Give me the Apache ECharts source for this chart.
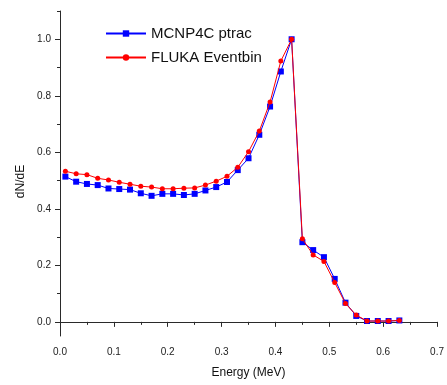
<!DOCTYPE html>
<html>
<head>
<meta charset="utf-8">
<script src="https://cdn.jsdelivr.net/npm/echarts@6/dist/echarts.min.js"></script>
<style>html,body{margin:0;padding:0;background:#fff;}#c{width:447px;height:385px;}</style>
</head>
<body>
<div id="c"></div>
<script>
var energy = [0.01,0.03,0.05,0.07,0.09,0.11,0.13,0.15,0.17,0.19,0.21,0.23,0.25,0.27,0.29,0.31,0.33,0.35,0.37,0.39,0.41,0.43,0.45,0.47,0.49,0.51,0.53,0.55,0.57,0.59,0.61,0.63];
var mcnp = [0.514,0.496,0.488,0.484,0.472,0.470,0.468,0.455,0.446,0.453,0.453,0.449,0.453,0.465,0.477,0.495,0.537,0.579,0.662,0.762,0.886,1.0,0.282,0.254,0.229,0.152,0.068,0.021,0.003,0.003,0.003,0.005];
var fluka = [0.533,0.524,0.521,0.508,0.502,0.494,0.487,0.480,0.477,0.471,0.471,0.473,0.474,0.484,0.498,0.515,0.547,0.602,0.675,0.778,0.923,1.0,0.294,0.237,0.214,0.139,0.065,0.024,0.003,0.003,0.003,0.005];
var yMajor = [0,0.2,0.4,0.6,0.8,1.0];
var yMinor = [0.1,0.3,0.5,0.7,0.9,1.1];
var seriesNames = ['MCNP4C ptrac','FLUKA Eventbin'];

function pairs(xs, ys){ return xs.map(function(x,i){return [x, ys[i]];}); }

var font = '"Liberation Sans", Arial, sans-serif';
var axisColor = '#2a2a2a';
var chart = echarts.init(document.getElementById('c'), null, {renderer:'canvas'});
chart.setOption({
  animation: false,
  backgroundColor: '#fff',
  grid: {left: 60, right: 7, top: 11, bottom: 49, containLabel: false},
  legend: {
    orient: 'vertical', left: 100, top: 21,
    itemWidth: 40, itemHeight: 8, itemGap: 9,
    textStyle: {fontFamily: font, fontSize: 15, color: '#111'},
    data: seriesNames
  },
  xAxis: {
    type: 'value', min: 0, max: 0.7, interval: 0.1,
    name: 'Energy (MeV)', nameLocation: 'middle', nameGap: 31,
    nameTextStyle: {fontFamily: font, fontSize: 12, color: '#111'},
    axisLine: {show: true, lineStyle: {color: axisColor, width: 1}},
    axisTick: {show: true, inside: false, length: 5, lineStyle: {color: axisColor}},
    minorTick: {show: true, splitNumber: 2, length: 3, lineStyle: {color: axisColor}},
    axisLabel: {fontFamily: font, fontSize: 10, color: '#222', margin: 11, formatter: function(v){return v.toFixed(1);}},
    splitLine: {show: false}
  },
  yAxis: [{
    type: 'value', min: -0.05, max: 1.1,
    name: 'dN/dE', nameLocation: 'middle', nameGap: 28, nameRotate: 90,
    nameTextStyle: {fontFamily: font, fontSize: 12, color: '#111', padding: [0, 16, 0, 0]},
    axisLine: {show: true, lineStyle: {color: axisColor, width: 1}},
    axisTick: {show: true, inside: false, length: 5, customValues: yMajor, lineStyle: {color: axisColor}},
    axisLabel: {fontFamily: font, fontSize: 10, color: '#222', margin: 9, customValues: yMajor, formatter: function(v){return v.toFixed(1);}},
    splitLine: {show: false}
  },{
    type: 'value', min: -0.05, max: 1.1, position: 'left',
    axisLine: {show: false},
    axisTick: {show: true, inside: false, length: 3, customValues: yMinor, lineStyle: {color: axisColor}},
    axisLabel: {show: false, customValues: yMinor},
    splitLine: {show: false}
  }],
  series: [{
    name: seriesNames[0], type: 'line', yAxisIndex: 0,
    data: pairs(energy, mcnp),
    symbol: 'rect', symbolSize: 6,
    lineStyle: {color: '#0000ff', width: 1},
    itemStyle: {color: '#0000ff'},
    z: 2
  },{
    name: seriesNames[1], type: 'line', yAxisIndex: 0,
    data: pairs(energy, fluka),
    symbol: 'circle', symbolSize: 5,
    lineStyle: {color: '#ff0000', width: 1},
    itemStyle: {color: '#ff0000'},
    z: 3
  }]
});
</script>
</body>
</html>
